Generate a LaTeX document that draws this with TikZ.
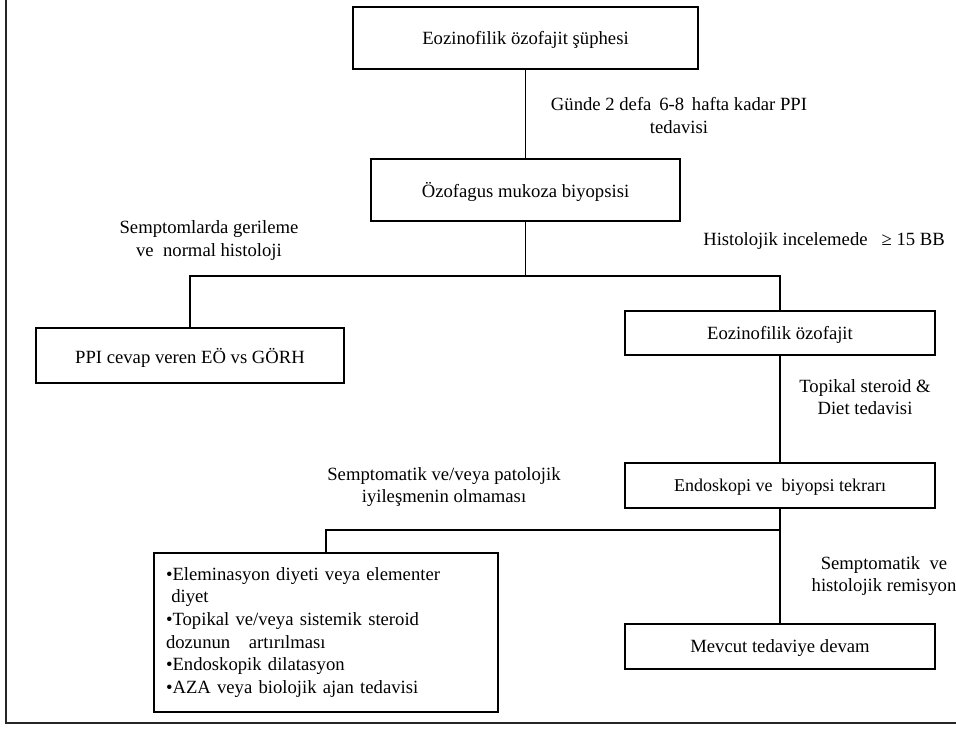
\documentclass[tikz,border=0pt]{standalone}
\usepackage{fontspec}
\setmainfont{Liberation Serif}
\usepackage{tikz}

\begin{document}
\begin{tikzpicture}[x=0.75pt, y=-0.75pt,
    box/.style={draw, line width=0.8pt, minimum width=#1*0.75pt, inner sep=0pt, text depth=0pt},
    lbl/.style={align=center, inner sep=0pt},
    every node/.style={font=\fontsize{14}{17}\selectfont}]
			\useasboundingbox (0,0) rectangle (956,728);
			% 外框
			\draw[line width=1.6pt, black!85] (6,0) -- (6,723) -- (956,723);
			% 方框
			\node[box=345, minimum height=46.5pt] (susp) at (525.5,38) {Eozinofilik özofajit şüphesi};
			\node[box=309, minimum height=46.5pt] (biop) at (525.5,190) {Özofagus mukoza biyopsisi};
			\node[box=308, minimum height=41.25pt] (ppi) at (190,355.5) {PPI cevap veren EÖ vs GÖRH};
			\node[box=310, minimum height=33pt] (eoe) at (780,333) {Eozinofilik özofajit};
			\node[box=310, minimum height=33.75pt, font=\fontsize{13.5}{17}\selectfont] (endo) at (780,485.5) {Endoskopi ve \ biyopsi tekrarı};
			\node[box=310, minimum height=33.75pt] (devam) at (780,646.5) {Mevcut tedaviye devam};
			\node[draw, line width=0.8pt, minimum width=258pt, minimum height=119.25pt, text width=240pt, align=left, inner sep=0pt, inner xsep=8pt] (liste) at (326,632.5)
				{•Eleminasyon diyeti veya elementer\\
				 \hspace*{4pt}diyet\\
				 •Topikal ve/veya sistemik steroid\\
				 dozunun \ \ artırılması\\
				 •Endoskopik dilatasyon\\
				 •AZA veya biolojik ajan tedavisi};
			% 分支点
			\coordinate (sR) at (780,276);
			\coordinate (tR) at (780,530);
			% 连线
			\draw[line width=0.8pt] (susp) -- (biop);
			\draw[line width=0.8pt] (biop) -- (biop |- sR);
			\draw[line width=0.8pt] (ppi) |- (sR) -- (eoe);
			\draw[line width=0.8pt] (eoe) -- (endo);
			\draw[line width=0.8pt] (endo) -- (devam);
			\draw[line width=0.8pt] (liste) |- (tR);
			% 标签
			\node[lbl] (l1) at (679,115.5) {Günde 2 defa \,6-8 \,hafta kadar PPI\\tedavisi};
			\node[lbl] (l2) at (209,240.5) {Semptomlarda gerileme\\ve \ normal histoloji};
			\node[lbl] (l3) at (824,241) {Histolojik incelemede \ \ ≥ 15 BB};
			\node[lbl] (l4) at (865,397) {Topikal steroid \&\\Diet tedavisi};
			\node[lbl] (l5) at (444,487) {Semptomatik ve/veya patolojik\\iyileşmenin olmaması};
			\node[lbl] (l6) at (884,576) {Semptomatik \ ve\\histolojik remisyon};
		\end{tikzpicture}
\end{document}
